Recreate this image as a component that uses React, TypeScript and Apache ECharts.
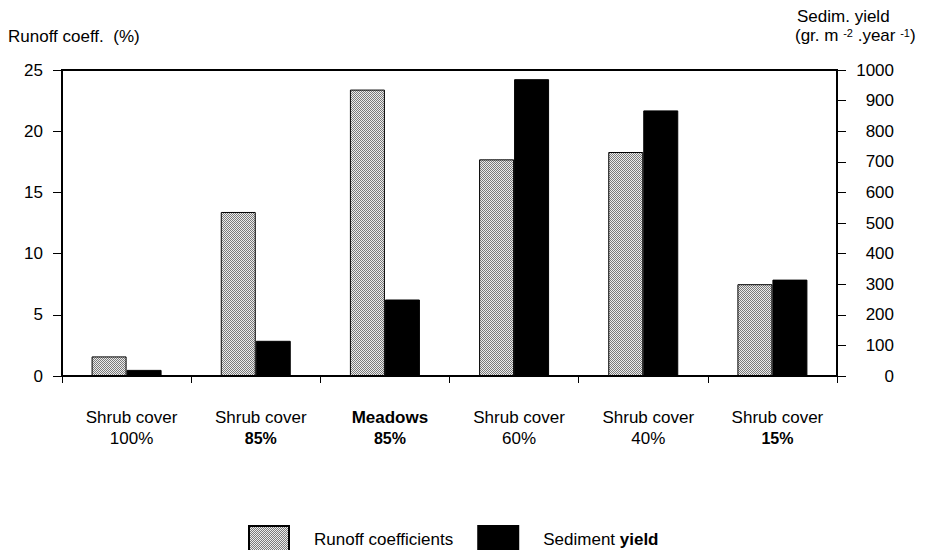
import React, { useEffect, useRef } from "react";
import * as echarts from "echarts";

const categoryNames = ["Shrub cover", "Shrub cover", "Meadows", "Shrub cover", "Shrub cover", "Shrub cover"];
const categoryCover = ["100%", "85%", "85%", "60%", "40%", "15%"];
const runoffCoefficients = [1.6, 13.4, 23.4, 17.7, 18.3, 7.5];
const sedimentYield = [20, 115, 250, 970, 868, 315];
const seriesNames = ["Runoff coefficients", "Sediment yield"];

const FONT = '"Liberation Sans", Arial, Helvetica, sans-serif';

function makePattern() {
  const c = document.createElement("canvas");
  c.width = 2;
  c.height = 2;
  const ctx = c.getContext("2d")!;
  ctx.fillStyle = "#ececec";
  ctx.fillRect(0, 0, 2, 2);
  ctx.fillStyle = "#7a7a7a";
  ctx.fillRect(0, 0, 1, 1);
  ctx.fillRect(1, 1, 1, 1);
  return c;
}

export default function App() {
  const ref = useRef<HTMLDivElement>(null);
  useEffect(() => {
    if (!ref.current) return;
    const chart = echarts.init(ref.current, null, { renderer: "svg" });
    const pattern = { image: makePattern(), repeat: "repeat" };
    const categories = categoryNames.map((n, i) => n + "\n" + categoryCover[i]);
    const option: any = {
      animation: false,
      backgroundColor: "#fff",
      textStyle: { fontFamily: FONT, color: "#000" },
      grid: {
        left: 62,
        right: 97,
        top: 70,
        bottom: 174,
        show: true,
        borderColor: "#000",
        borderWidth: 2,
        containLabel: false,
        outerBoundsMode: "none",
      },
      legend: {
        left: 243,
        top: 520,
        itemWidth: 40,
        itemHeight: 26,
        itemGap: 24,
        icon: "rect",
        data: seriesNames,
        formatter: (name: string) =>
          name === "Sediment yield" ? "{n|Sediment }{b|yield}" : "{n|" + name + "}",
        textStyle: {
          fontFamily: FONT,
          fontSize: 17,
          color: "#000",
          padding: [0, 0, 0, 20],
          rich: {
            n: { fontFamily: FONT, fontSize: 17, color: "#000" },
            b: { fontFamily: FONT, fontSize: 17, color: "#000", fontWeight: "bold" },
          },
        },
      },
      xAxis: {
        type: "category",
        data: categories,
        axisLine: { show: true, lineStyle: { color: "#000", width: 2 } },
        axisTick: { show: true, length: 7, lineStyle: { color: "#000", width: 1 } },
        axisLabel: {
          margin: 31,
          interval: 0,
          padding: [0, 0, 0, 10],
          formatter: (v: string, idx: number) => {
            const [a, b] = v.split("\n");
            const topStyle = a === "Meadows" ? "nb" : "n";
            const botStyle = idx === 1 || idx === 2 || idx === 5 ? "pb" : "n";
            return "{" + topStyle + "|" + a + "}\n{" + botStyle + "|" + b + "}";
          },
          rich: {
            n: { fontFamily: FONT, fontSize: 17, color: "#000", lineHeight: 21 },
            nb: { fontFamily: FONT, fontSize: 17, color: "#000", fontWeight: "bold", lineHeight: 21 },
            pb: { fontFamily: FONT, fontSize: 16, color: "#000", fontWeight: "bold", lineHeight: 21 },
          },
        },
        splitLine: { show: false },
      },
      yAxis: [
        {
          type: "value",
          position: "left",
          min: 0,
          max: 25,
          interval: 5,
          axisLine: { show: true, lineStyle: { color: "#000", width: 2 } },
          axisTick: { show: true, length: 9, lineStyle: { color: "#000", width: 1 } },
          axisLabel: { fontFamily: FONT, fontSize: 17, color: "#000", margin: 19 },
          splitLine: { show: false },
        },
        {
          type: "value",
          position: "right",
          min: 0,
          max: 1000,
          interval: 100,
          axisLine: { show: true, lineStyle: { color: "#000", width: 2 } },
          axisTick: { show: true, length: 9, lineStyle: { color: "#000", width: 1 } },
          axisLabel: {
            fontFamily: FONT,
            fontSize: 17,
            color: "#000",
            margin: 57,
            align: "right",
            formatter: (v: number) => String(v),
          },
          splitLine: { show: false },
        },
      ],
      series: [
        {
          name: seriesNames[0],
          type: "bar",
          yAxisIndex: 0,
          data: runoffCoefficients,
          barWidth: 35,
          barGap: "0%",
          itemStyle: { color: pattern, borderColor: "#000", borderWidth: 1 },
        },
        {
          name: seriesNames[1],
          type: "bar",
          yAxisIndex: 1,
          data: sedimentYield,
          barWidth: 35,
          barGap: "0%",
          itemStyle: { color: "#000", borderColor: "#000", borderWidth: 1 },
        },
      ],
      graphic: [
        {
          type: "text",
          left: 8,
          top: 28,
          style: { text: "Runoff coeff.  (%)", font: "17px " + FONT, fill: "#000" },
        },
        {
          type: "text",
          left: 797,
          top: 8,
          style: { text: "Sedim. yield", font: "17px " + FONT, fill: "#000" },
        },
        {
          type: "text",
          left: 795,
          top: 27,
          style: {
            text: "{n|(gr. m }{s|-2}{n| .year }{s|-1}{n|)}",
            rich: {
              n: { fontFamily: FONT, fontSize: 17, fill: "#000" },
              s: { fontFamily: FONT, fontSize: 11, fill: "#000", verticalAlign: "top" },
            },
          },
        },
      ],
    };
    chart.setOption(option);
    return () => chart.dispose();
  }, []);
  return (
    <div
      ref={ref}
      style={{ position: "fixed", left: 0, top: 0, width: 934, height: 550, background: "#fff" }}
    />
  );
}
